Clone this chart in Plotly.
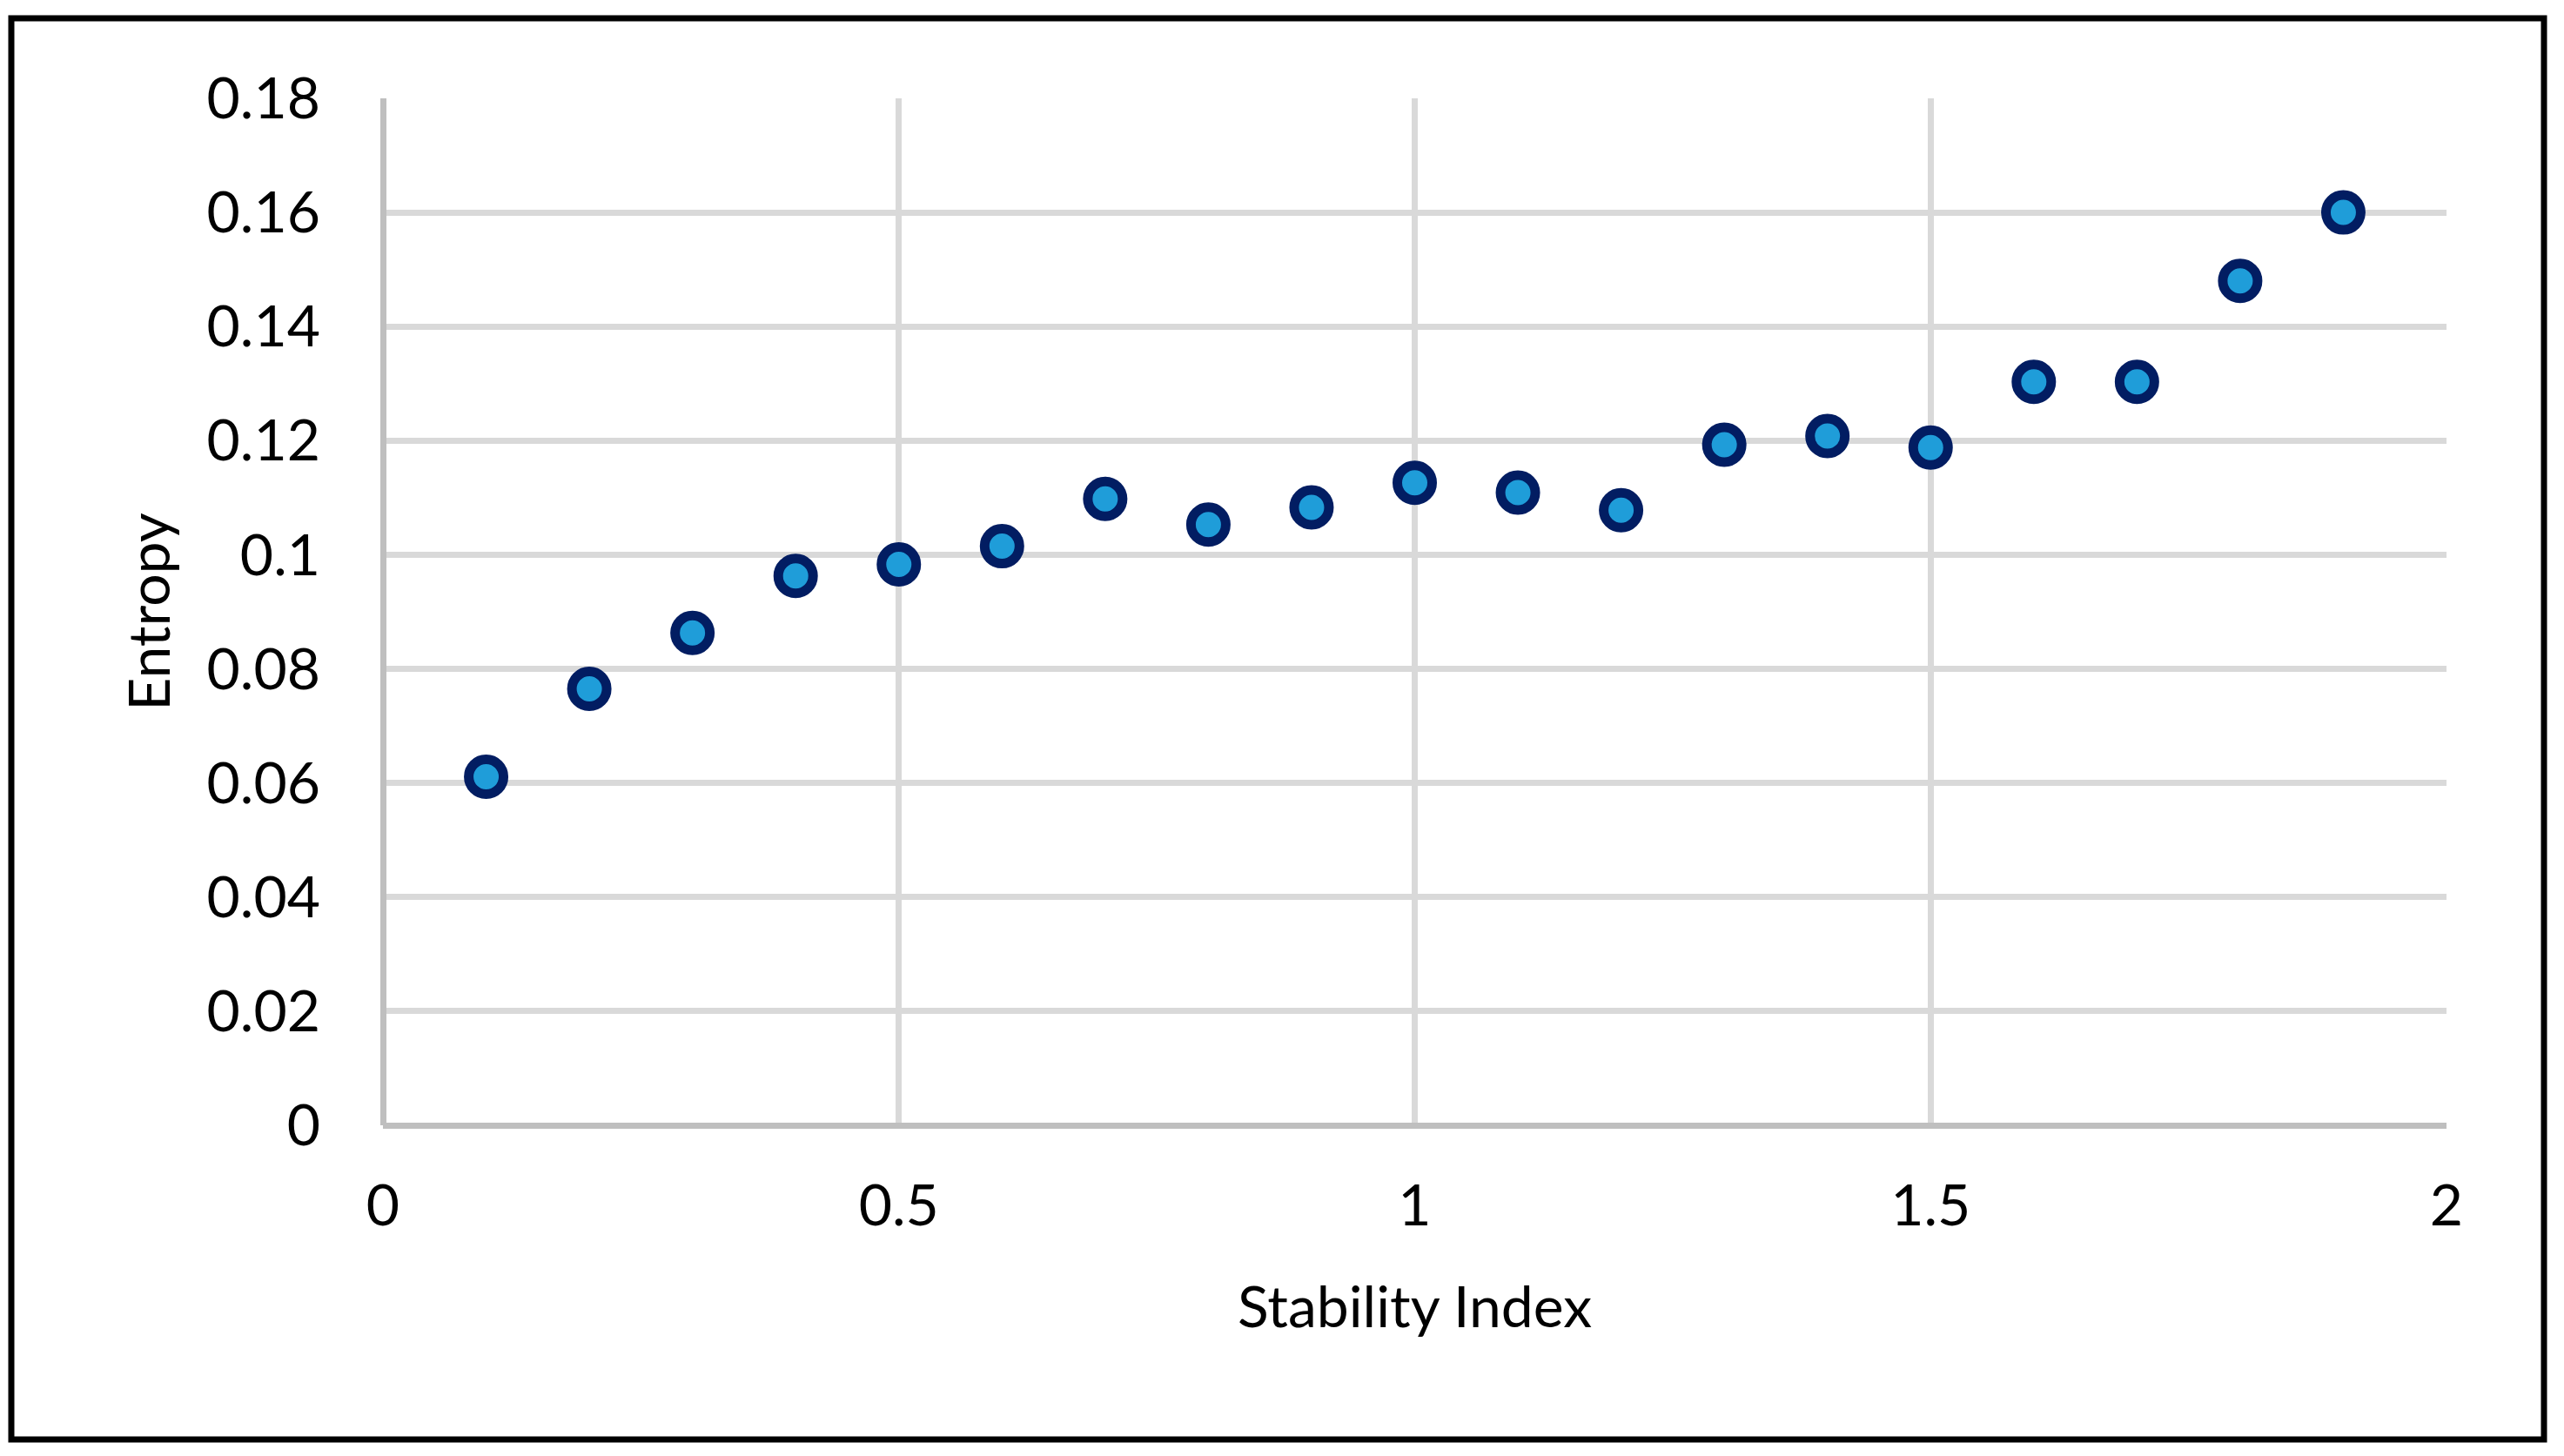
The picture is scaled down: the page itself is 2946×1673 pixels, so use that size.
import plotly.graph_objects as go

# Data
stability_index = [0.1, 0.2, 0.3, 0.4, 0.5, 0.6, 0.7, 0.8, 0.9, 1.0,
                   1.1, 1.2, 1.3, 1.4, 1.5, 1.6, 1.7, 1.8, 1.9]
entropy = [0.0611, 0.0765, 0.0863, 0.0963, 0.0983, 0.1015, 0.1098, 0.1053, 0.1083, 0.1126,
           0.1109, 0.1078, 0.1193, 0.1208, 0.1188, 0.1303, 0.1303, 0.1480, 0.1600]

x_ticks = [0, 0.5, 1, 1.5, 2]
x_tick_labels = ["0", "0.5", "1", "1.5", "2"]
y_ticks = [0, 0.02, 0.04, 0.06, 0.08, 0.1, 0.12, 0.14, 0.16, 0.18]
y_tick_labels = ["0", "0.02", "0.04", "0.06", "0.08", "0.1", "0.12", "0.14", "0.16", "0.18"]

W, H = 2946, 1673
L, R, T, B = 440, 135, 113, 380
FONT = "Lato, 'Open Sans', sans-serif"
FS = 66

fig = go.Figure()
fig.add_trace(go.Scatter(
    x=stability_index, y=entropy, mode="markers",
    marker=dict(size=40, color="#1F9DD9", line=dict(color="#021D62", width=11)),
    showlegend=False, cliponaxis=False,
))

fig.update_layout(
    width=W, height=H,
    margin=dict(l=L, r=R, t=T, b=B, pad=0),
    paper_bgcolor="white", plot_bgcolor="white",
    font=dict(family=FONT, size=FS, color="black"),
    xaxis=dict(
        range=[0, 2], tickmode="array", tickvals=x_ticks, ticktext=x_tick_labels,
        showgrid=True, gridcolor="#D9D9D9", gridwidth=6.5,
        showline=False, zeroline=True, zerolinecolor="#BFBFBF", zerolinewidth=6.5,
        ticks="", ticklabelstandoff=48, automargin=False,
        title=dict(text="Stability Index", font=dict(family=FONT, size=FS), standoff=57),
    ),
    yaxis=dict(
        range=[0, 0.18], tickmode="array", tickvals=y_ticks, ticktext=y_tick_labels,
        showgrid=True, gridcolor="#D9D9D9", gridwidth=6.5,
        showline=False, zeroline=True, zerolinecolor="#BFBFBF", zerolinewidth=6.5,
        ticks="", ticklabelstandoff=71, automargin=False,
        title=dict(text="Entropy", font=dict(family=FONT, size=FS), standoff=20),
    ),
)

# Outer black frame around the whole chart
pw, ph = W - L - R, H - T - B
fig.add_shape(
    type="rect", xref="paper", yref="paper",
    x0=(13 - L) / pw, x1=(2923 - L) / pw,
    y0=(H - B - 1654) / ph, y1=(H - B - 21) / ph,
    line=dict(color="black", width=7), fillcolor="rgba(0,0,0,0)", layer="above",
)

fig.write_html(
    "out.html",
    config={"displayModeBar": False},
    post_script="document.body.style.margin='0';document.body.style.overflow='hidden';",
)
